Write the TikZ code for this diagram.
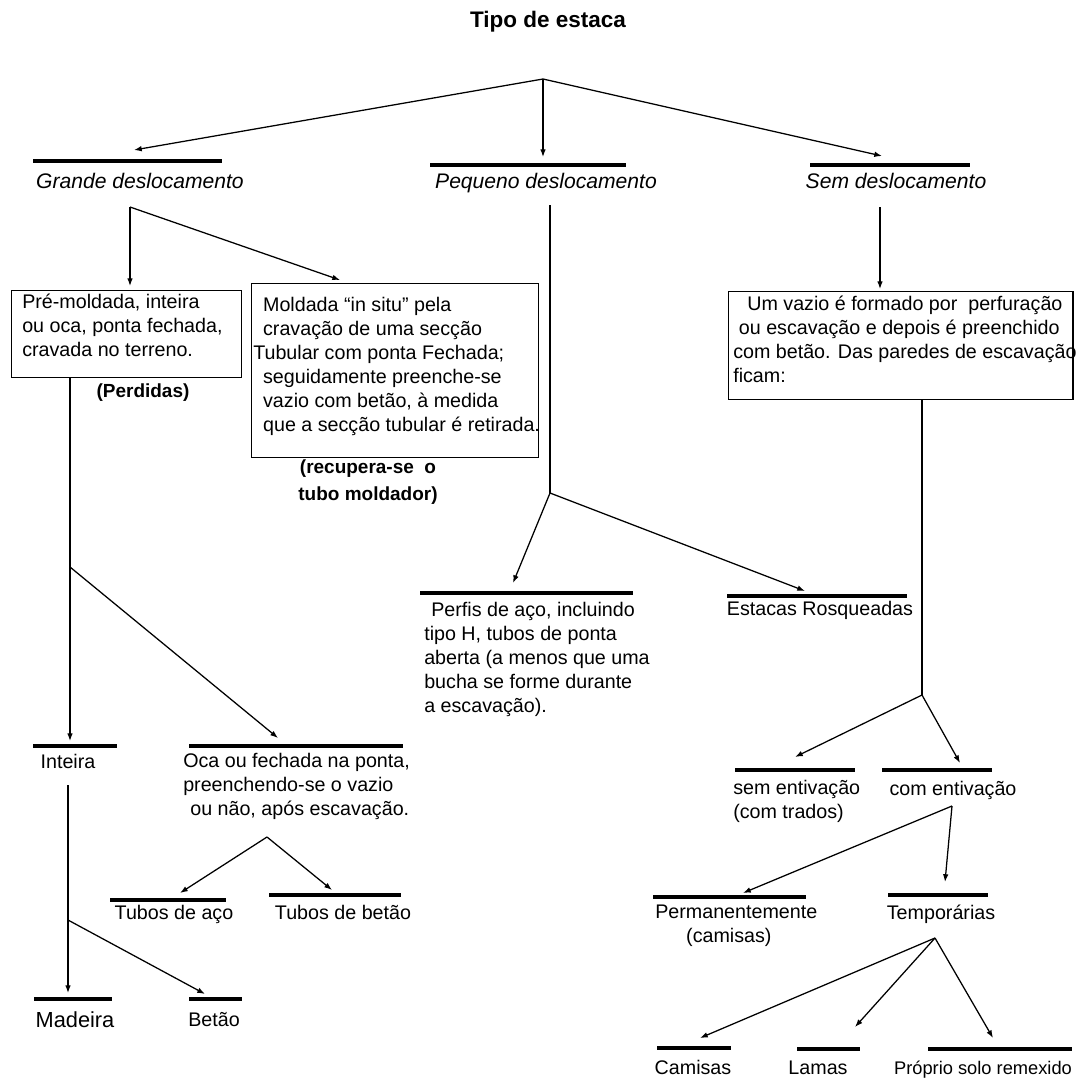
\documentclass[tikz,border=0pt]{standalone}
\usepackage{fontspec}
\setmainfont{Liberation Sans}
\usetikzlibrary{arrows.meta}
\begin{document}
\begin{tikzpicture}[x=0.025cm,y=-0.025cm,
  conn/.style={line width=0.9pt,-{Latex[length=5.5pt,width=4pt]}},
  plain/.style={line width=0.9pt},
  bar/.style={line width=2.8pt},
  boxs/.style={draw,line width=1pt,inner sep=0pt,anchor=north west},
  txt/.style={font=\fontsize{14}{17}\selectfont,inner sep=0pt,anchor=base},
  mtxt/.style={font=\fontsize{14}{17}\selectfont,inner sep=0pt,align=left,anchor=north west},
  lbl/.style={font=\fontsize{15}{18}\selectfont\itshape,inner sep=0pt,anchor=base},
  btxt/.style={font=\fontsize{13.5}{19.5}\selectfont\bfseries,inner sep=0pt,align=center},
]
\useasboundingbox (0,0) rectangle (1078,1079);

% title
\node[font=\fontsize{16}{19}\selectfont\bfseries,inner sep=0pt] (title) at (548,22) {Tipo de estaca};

% first level
\coordinate (root) at (543,79);
\coordinate (tG) at (134,150);
\coordinate (tP) at (543,157);
\coordinate (tS) at (882,156);
\draw[conn] (root) -- (tG);
\draw[conn] (root) -- (tP);
\draw[conn] (root) -- (tS);

\draw[bar] (33,161) -- (222,161);
\draw[bar] (430,165) -- (626,165);
\draw[bar] (810,165) -- (970,165);
\node[lbl] (lG) at (140,188) {Grande deslocamento};
\node[lbl] (lP) at (546,188) {Pequeno deslocamento};
\node[lbl] (lS) at (896,188) {Sem deslocamento};

% Grande deslocamento
\coordinate (g0) at (130,207);
\coordinate (tB1) at (130,286);
\coordinate (tB2) at (340,280);
\draw[conn] (g0) -- (tB1);
\draw[conn] (g0) -- (tB2);

\node[boxs,minimum width=5.75cm,minimum height=2.175cm] (b1) at (11,290) {};
\node[mtxt] (b1t) at (22,294) {Pré-moldada, inteira\\ou oca, ponta fechada,\\cravada no terreno.};
\node[btxt] (perd) at (143,393) {(Perdidas)};

\node[boxs,minimum width=7.175cm,minimum height=4.35cm] (b2) at (251,283) {};
\node[mtxt] (b2t) at (253,297) {\hspace{7pt}Moldada “in situ” pela\\\hspace{7pt}cravação de uma secção\\Tubular com ponta Fechada;\\\hspace{7pt}seguidamente preenche-se\\\hspace{7pt}vazio com betão, à medida\\\hspace{7pt}que a secção tubular é retirada.};
\node[btxt] (recup) at (368,482) {(recupera-se\ \ o\\tubo moldador)};

\coordinate (b1b) at (70,377);
\coordinate (gj) at (70,567);
\coordinate (tInt) at (70,741);
\coordinate (tOca) at (278,738);
\draw[plain] (b1b) -- (gj);
\draw[conn] (gj) -- (tInt);
\draw[conn] (gj) -- (tOca);

\draw[bar] (33,746) -- (117,746);
\node[txt] (int) at (68,768) {Inteira};
\draw[bar] (189,746) -- (403,746);
\node[mtxt] (oca) at (183,753) {Oca ou fechada na ponta,\\preenchendo-se o vazio\\\hspace{5pt}ou não, após escavação.};

\coordinate (i0) at (68,785);
\coordinate (ij) at (68,920);
\coordinate (tMad) at (68,993);
\coordinate (tBet) at (205,994);
\draw[plain] (i0) -- (ij);
\draw[conn] (ij) -- (tMad);
\draw[conn] (ij) -- (tBet);
\draw[bar] (34,999) -- (112,999);
\node[txt,font=\fontsize{15.5}{18}\selectfont] (mad) at (75,1027) {Madeira};
\draw[bar] (189,999) -- (242,999);
\node[txt] (bet) at (214,1026) {Betão};

\coordinate (o0) at (267,837);
\coordinate (tTa) at (180,893);
\coordinate (tTb) at (332,890);
\draw[conn] (o0) -- (tTa);
\draw[conn] (o0) -- (tTb);
\draw[bar] (110,900) -- (226,900);
\node[txt] (ta) at (174,919) {Tubos de aço};
\draw[bar] (269,895) -- (401,895);
\node[txt] (tb) at (343,919) {Tubos de betão};

% Pequeno deslocamento
\coordinate (p0) at (550,205);
\coordinate (pj) at (550,493);
\coordinate (tPer) at (513,583);
\coordinate (tRos) at (805,591);
\draw[plain] (p0) -- (pj);
\draw[conn] (pj) -- (tPer);
\draw[conn] (pj) -- (tRos);
\draw[bar] (420,593) -- (633,593);
\node[mtxt] (per) at (424,602) {\hspace{5pt}Perfis de aço, incluindo\\tipo H, tubos de ponta\\aberta (a menos que uma\\bucha se forme durante\\a escavação).};
\draw[bar] (727,596) -- (907,596);
\node[txt] (ros) at (820,615) {Estacas Rosqueadas};

% Sem deslocamento
\coordinate (s0) at (880,207);
\coordinate (tB3) at (880,289);
\draw[conn] (s0) -- (tB3);
\node[boxs,minimum width=8.6cm,minimum height=2.7cm] (b3) at (728,291) {};
\node[mtxt] (b3t) at (733,296) {\hspace{10pt}Um vazio é formado por\ \ perfuração\\\hspace{4pt}ou escavação e depois é preenchido\\com betão. Das paredes de escavação\\ficam:};

\coordinate (b3b) at (922,399);
\coordinate (sj) at (922,695);
\coordinate (tSem) at (795,757);
\coordinate (tCom) at (960,763);
\draw[plain] (b3b) -- (sj);
\draw[conn] (sj) -- (tSem);
\draw[conn] (sj) -- (tCom);
\draw[bar] (735,770) -- (855,770);
\node[mtxt] (sement) at (733,780) {sem entivação\\(com trados)};
\draw[bar] (882,770) -- (992,770);
\node[txt] (coment) at (953,795) {com entivação};

\coordinate (c0) at (952,806);
\coordinate (tPerm) at (743,893);
\coordinate (tTemp) at (945,882);
\draw[conn] (c0) -- (tPerm);
\draw[conn] (c0) -- (tTemp);
\draw[bar] (653,897) -- (806,897);
\node[mtxt] (perm) at (655,905) {Permanentemente\\\hspace{22pt}(camisas)};
\draw[bar] (888,895) -- (988,895);
\node[txt] (temp) at (941,919) {Temporárias};

\coordinate (t0) at (935,938);
\coordinate (tCam) at (700,1038);
\coordinate (tLam) at (855,1027);
\coordinate (tPro) at (993,1038);
\draw[conn] (t0) -- (tCam);
\draw[conn] (t0) -- (tLam);
\draw[conn] (t0) -- (tPro);
\draw[bar] (657,1048) -- (731,1048);
\node[txt] (cam) at (693,1074) {Camisas};
\draw[bar] (797,1049) -- (860,1049);
\node[txt] (lam) at (818,1074) {Lamas};
\draw[bar] (928,1049) -- (1072,1049);
\node[txt,font=\fontsize{13}{16}\selectfont] (pro) at (983,1074) {Próprio solo remexido};
\end{tikzpicture}
\end{document}
